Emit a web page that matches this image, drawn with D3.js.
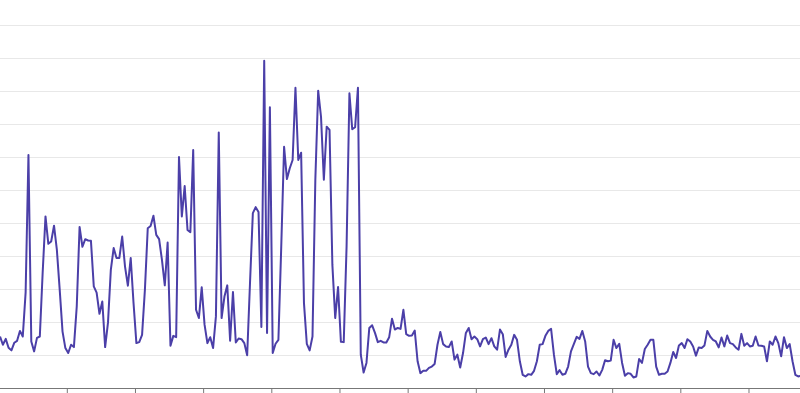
<!DOCTYPE html>
<html>
<head>
<meta charset="utf-8">
<script src="https://cdn.jsdelivr.net/npm/d3@7"></script>
<style>
  body { margin: 0; background: #fff; }
  .grid line { stroke: #e8e8e8; }
  .xaxis path, .xaxis line { stroke: #777; }
</style>
</head>
<body>
<div class="chart"></div>
<script>
// hourly readings, one value per hour (taken at half past the hour)
var values = [
  15.6, 13.1, 14.9, 12.2, 11.4, 13.7, 14.3, 17.3, 15.6, 28.9,
  70.6, 14.1, 11.1, 15.2, 15.6, 34.9, 52.0, 43.7, 44.4, 49.2,
  41.9, 29.8, 17.1, 12.1, 10.6, 13.1, 12.4, 24.7, 48.8, 42.8,
  45.1, 44.7, 44.6, 30.8, 28.9, 22.5, 26.2, 12.4, 19.8, 35.8,
  42.4, 39.4, 39.4, 45.9, 36.8, 31.0, 39.4, 25.7, 13.6, 13.9,
  16.1, 29.8, 48.4, 49.1, 52.2, 46.4, 45.1, 38.8, 31.1, 44.1,
  12.8, 15.8, 15.4, 70.0, 52.0, 61.2, 47.9, 47.2, 72.1, 23.7,
  21.2, 30.5, 19.2, 13.6, 15.4, 12.1, 21.7, 77.4, 21.2, 27.7,
  31.1, 14.3, 29.1, 13.8, 15.0, 14.8, 13.6, 9.9, 31.8, 53.0,
  54.8, 53.3, 18.5, 99.2, 16.7, 85.1, 10.6, 13.4, 14.6, 42.9,
  73.1, 63.3, 66.6, 69.1, 91.0, 69.1, 71.3, 25.7, 13.4, 11.4,
  15.6, 63.1, 90.1, 82.2, 63.1, 79.2, 78.2, 37.3, 21.2, 30.6,
  14.0, 13.9, 42.9, 89.3, 78.4, 79.0, 91.0, 10.1, 4.7, 7.6,
  18.2, 19.0, 16.7, 13.9, 14.3, 13.8, 13.8, 15.4, 21.0, 17.7,
  18.2, 17.9, 23.7, 16.3, 15.8, 15.9, 17.4, 8.1, 4.5, 5.2,
  5.2, 6.1, 6.5, 7.3, 13.1, 17.0, 13.3, 12.6, 12.4, 14.1,
  8.6, 10.1, 6.2, 10.6, 16.7, 18.2, 14.8, 15.6, 14.8, 12.6,
  14.8, 15.3, 13.3, 15.1, 12.6, 11.6, 17.7, 16.3, 9.4, 11.6,
  13.1, 16.1, 14.6, 8.1, 4.0, 3.5, 4.2, 4.0, 5.2, 8.1,
  13.1, 13.3, 15.8, 17.3, 17.9, 10.1, 4.2, 5.4, 4.0, 4.3,
  6.5, 11.1, 13.3, 15.5, 14.9, 17.3, 14.1, 6.5, 4.5, 4.2,
  5.0, 3.8, 5.5, 8.4, 8.1, 8.3, 14.6, 12.1, 13.4, 7.6,
  3.7, 4.5, 4.3, 3.2, 3.5, 8.8, 7.6, 11.8, 13.1, 14.6,
  14.6, 6.5, 4.0, 4.3, 4.3, 5.0, 7.6, 10.9, 9.1, 12.9,
  13.6, 12.1, 14.8, 14.1, 12.6, 9.8, 12.3, 12.1, 12.9, 17.3,
  15.6, 14.6, 14.1, 12.3, 15.3, 12.6, 15.9, 13.6, 13.3, 12.3,
  11.6, 16.4, 12.8, 13.6, 12.6, 12.8, 15.6, 12.9, 12.8, 12.6,
  8.1, 14.1, 13.1, 15.6, 13.6, 9.6, 15.4, 12.1, 13.3, 8.1,
  4.0, 3.5, 3.7
];

// y gridline values and x tick values (one tick per day, in hours)
var yTicks = [10, 20, 30, 40, 50, 60, 70, 80, 90, 100, 110];
var xTicks = [0, 24, 48, 72, 96, 120, 144, 168, 192, 216, 240, 264];

(function () {

  var width = 800, height = 393;
  var hourPx = 2.8404;

  var svg = d3.select(".chart")
    .append("svg")
    .attr("width", width)
    .attr("height", height);

  // hours -> x
  var x = d3.scaleLinear()
    .domain([0, 282])
    .range([-1.37, -1.37 + 282 * hourPx]);

  var y = d3.scaleLinear()
    .domain([0, 110])
    .range([388, 25]);

  // horizontal gridlines
  svg.append("g")
    .attr("class", "grid")
    .call(d3.axisRight(y).tickValues(yTicks).tickSize(width).tickFormat(""))
    .call(function (g) { g.select(".domain").remove(); });

  // bottom axis
  svg.append("g")
    .attr("class", "xaxis")
    .attr("transform", "translate(0," + y(0) + ")")
    .call(d3.axisBottom(x).tickValues(xTicks).tickSize(6).tickSizeOuter(0).tickFormat(""));

  // the line, each reading sits half an hour after its hour
  var line = d3.line()
    .x(function (d, i) { return x(i + 0.5); })
    .y(function (d) { return y(d); });

  svg.append("path")
    .datum(values)
    .attr("fill", "none")
    .attr("stroke", "#4b3fa8")
    .attr("stroke-width", 2)
    .attr("stroke-linejoin", "round")
    .attr("d", line);

})();
</script>
</body>
</html>
